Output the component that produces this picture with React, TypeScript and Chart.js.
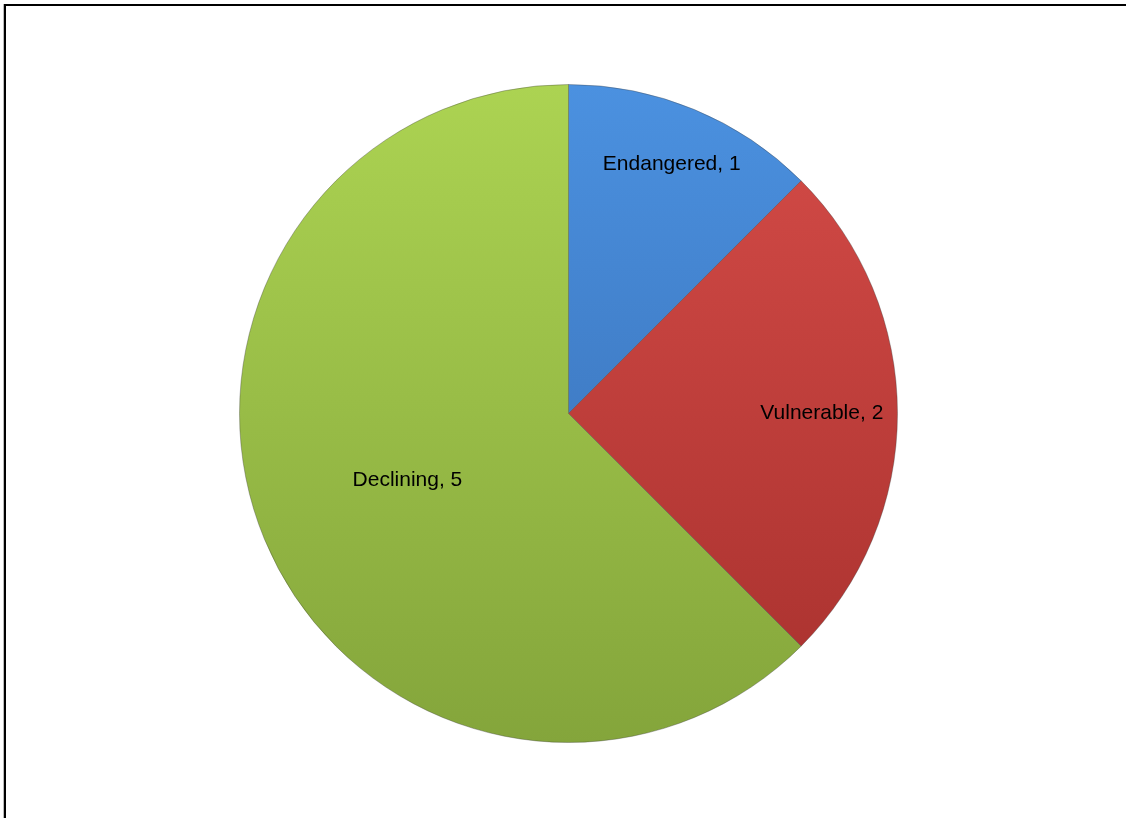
import React, { useEffect, useRef } from "react";
import { Chart, registerables } from "chart.js";

Chart.register(...registerables);

const categories = ["Endangered", "Vulnerable", "Declining"];
const values = [1, 2, 5];
const topColors = ["#4b91e0", "#d54c48", "#acd352"];
const bottomColors = ["#3569ad", "#a7302d", "#84a53b"];
const labelRadiusFractions = [0.82, 0.77, 0.53];

const labelPlugin = {
  id: "sliceLabels",
  afterDatasetsDraw(chart: any) {
    const ctx = chart.ctx;
    const meta = chart.getDatasetMeta(0);
    ctx.save();
    ctx.font = '21px "Liberation Sans", Arial, sans-serif';
    ctx.fillStyle = "#000";
    ctx.textAlign = "center";
    ctx.textBaseline = "middle";
    meta.data.forEach((arc: any, i: number) => {
      const { x, y, startAngle, endAngle, outerRadius } = arc.getProps(
        ["x", "y", "startAngle", "endAngle", "outerRadius"],
        true
      );
      const mid = (startAngle + endAngle) / 2;
      const r = outerRadius * labelRadiusFractions[i];
      ctx.fillText(
        `${categories[i]}, ${values[i]}`,
        x + Math.cos(mid) * r,
        y + Math.sin(mid) * r
      );
    });
    ctx.restore();
  },
};

export default function App() {
  const ref = useRef<HTMLCanvasElement>(null);
  useEffect(() => {
    if (!ref.current) return;
    const chart = new Chart(ref.current, {
      type: "pie",
      data: {
        labels: categories,
        datasets: [
          {
            data: values,
            backgroundColor: (c: any) => {
              const area = c.chart.chartArea;
              if (!area) return topColors[c.dataIndex];
              const g = c.chart.ctx.createLinearGradient(0, area.top, 0, area.bottom);
              g.addColorStop(0, topColors[c.dataIndex]);
              g.addColorStop(1, bottomColors[c.dataIndex]);
              return g;
            },
            borderColor: "rgba(60,60,60,0.35)",
            borderWidth: 1,
            hoverOffset: 0,
            offset: 0,
          },
        ],
      },
      options: {
        animation: false,
        responsive: false,
        maintainAspectRatio: false,
        layout: { padding: 0 },
        plugins: {
          legend: { display: false },
          tooltip: { enabled: false },
          title: { display: false },
        },
        events: [],
      },
      plugins: [labelPlugin],
    });
    return () => chart.destroy();
  }, []);

  return (
    <div
      style={{
        position: "fixed",
        left: 0,
        top: 0,
        width: 1126,
        height: 818,
        background: "#fff",
        overflow: "hidden",
      }}
    >
      <div
        style={{
          position: "absolute",
          left: 4,
          top: 4,
          width: 1130,
          height: 830,
          borderLeft: "2px solid #000",
          borderTop: "2px solid #000",
          boxShadow: "-1px 0 0 #bbb",
        }}
      />
      <canvas
        ref={ref}
        width={659}
        height={659}
        style={{ position: "absolute", left: 239, top: 84, width: 659, height: 659 }}
      />
    </div>
  );
}
